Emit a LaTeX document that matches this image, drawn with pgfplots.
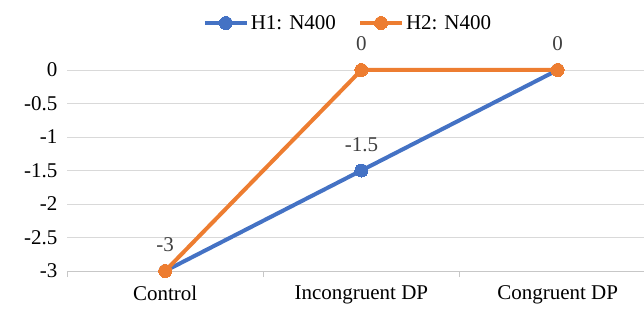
\documentclass[border=0pt]{standalone}
\usepackage{pgfplots}
\pgfplotsset{compat=1.18}
\usepackage{fontspec}
\setmainfont{Liberation Serif}
\definecolor{cblue}{RGB}{68,114,196}
\definecolor{corange}{RGB}{237,125,49}
\definecolor{cgrid}{RGB}{217,217,217}
\definecolor{ctext}{RGB}{64,64,64}
\begin{document}
\begin{tikzpicture}[x=1pt,y=1pt]
\useasboundingbox (-67,-37) rectangle (577,271);
\begin{axis}[
  at={(0,0)}, anchor=south west, scale only axis,
  width=577pt, height=201pt,
  xmin=-0.5, xmax=2.44, ymin=-3, ymax=0,
  clip=false,
  axis x line*=bottom, axis y line*=left,
  y axis line style={draw=none},
  x axis line style={color=cgrid!80!gray, line width=0.8pt},
  xtick={0,1,2},
  xticklabels={Control, Incongruent DP, Congruent DP},
  minor xtick={-0.5,0.5,1.5},
  xtick align=outside,
  major tick length=0pt, minor tick length=6pt,
  minor tick style={color=cgrid!80!gray, line width=0.8pt},
  ytick={-3,-2.5,-2,-1.5,-1,-0.5,0},
  yticklabels={-3,-2.5,-2,-1.5,-1,-0.5,0},
  ymajorgrids, grid style={color=cgrid, line width=0.8pt},
  ticklabel style={font=\fontsize{21}{24}\selectfont, text=black},
  yticklabel style={xshift=-6pt},
  xticklabel style={yshift=-11pt},
  legend columns=2,
  legend style={at={(0.487,1)}, anchor=center, yshift=47pt, draw=none, fill=none,
    font=\fontsize{21}{24}\selectfont, column sep=0pt,
    /tikz/every even column/.append style={column sep=20pt},
    nodes={inner sep=2pt}},
  legend image code/.code={\draw[#1, mark repeat=2, mark phase=2] plot coordinates {(0pt,0pt) (21pt,0pt) (42pt,0pt)};},
  nodes near coords={\pgfplotspointmeta},
  point meta=explicit symbolic,
  every node near coord/.append style={anchor=center, yshift=26pt, font=\fontsize{21}{24}\selectfont, text=ctext},
]
\addplot[cblue, line width=4pt, mark=*, mark size=6.5pt, mark options={solid, fill=cblue, draw=cblue, line width=0pt}]
  coordinates {(0,-3) [-3] (1,-1.5) [-1.5] (2,0) [0]};
\addlegendentry{H1: N400}
\addplot[corange, line width=4pt, mark=*, mark size=6.5pt, mark options={solid, fill=corange, draw=corange, line width=0pt}]
  coordinates {(0,-3) [] (1,0) [0] (2,0) []};
\addlegendentry{H2: N400}
\end{axis}
\end{tikzpicture}
\end{document}
